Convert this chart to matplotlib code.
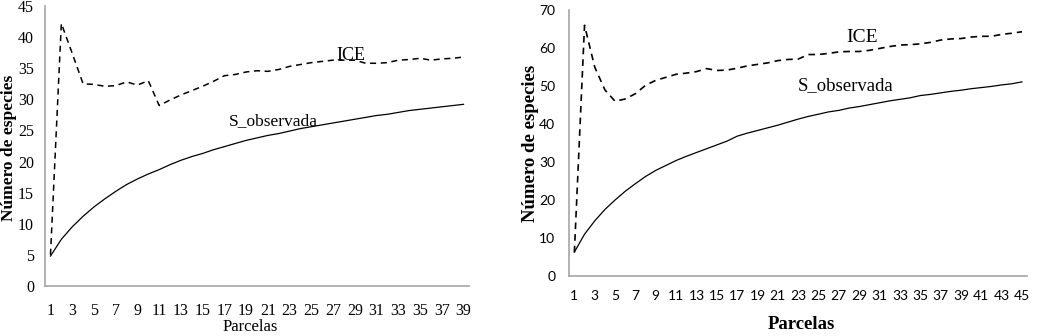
import matplotlib
matplotlib.use('Agg')
import matplotlib.pyplot as plt
from matplotlib import font_manager

# left panel (39 parcelas)
parcelas_a = list(range(1, 40))
ice_a = [5.0, 42.2, 37.4, 32.5, 32.4, 32.1, 32.2, 32.8, 32.3, 33.0,
         29.0, 29.9, 30.7, 31.4, 32.1, 32.9, 33.8, 34.0, 34.4, 34.6,
         34.5, 34.8, 35.3, 35.6, 35.9, 36.1, 36.3, 36.3, 36.3, 35.8,
         35.8, 35.9, 36.3, 36.4, 36.6, 36.3, 36.5, 36.6, 36.8]
sobs_a = [4.8, 7.5, 9.5, 11.2, 12.7, 14.0, 15.2, 16.3, 17.2, 18.0,
          18.7, 19.5, 20.2, 20.8, 21.3, 21.9, 22.4, 22.9, 23.4, 23.8,
          24.2, 24.5, 24.9, 25.3, 25.6, 25.9, 26.2, 26.5, 26.8, 27.1,
          27.4, 27.6, 27.9, 28.2, 28.4, 28.6, 28.8, 29.0, 29.2]

# right panel (45 parcelas)
parcelas_b = list(range(1, 46))
ice_b = [6.2, 66.0, 55.0, 49.0, 46.0, 46.6, 48.0, 50.2, 51.5, 52.3,
         53.1, 53.4, 53.8, 54.6, 54.1, 54.2, 54.7, 55.3, 55.7, 56.1,
         56.7, 57.0, 57.1, 58.3, 58.3, 58.6, 59.0, 59.1, 59.1, 59.4,
         59.9, 60.4, 60.8, 60.9, 61.1, 61.5, 62.1, 62.4, 62.5, 62.9,
         63.1, 63.1, 63.6, 63.9, 64.3]
sobs_b = [6.3, 11.0, 14.5, 17.5, 20.0, 22.3, 24.3, 26.2, 27.8, 29.1,
          30.4, 31.5, 32.5, 33.5, 34.5, 35.5, 36.8, 37.6, 38.3, 39.0,
          39.7, 40.5, 41.3, 42.0, 42.6, 43.2, 43.6, 44.2, 44.6, 45.1,
          45.6, 46.1, 46.5, 46.9, 47.5, 47.8, 48.2, 48.6, 48.9, 49.3,
          49.6, 49.9, 50.3, 50.6, 51.1]

plt.rcParams['font.family'] = 'Liberation Serif'

# narrow sans for the right panel ticks if it is there
try:
    font_manager.findfont('Liberation Sans Narrow', fallback_to_default=False)
    sans_ticks, sans_size = 'Liberation Sans Narrow', 11.5
except ValueError:
    sans_ticks, sans_size = 'Lato', 10

fig = plt.figure(figsize=(10.55, 3.36), dpi=100)
ax1 = fig.add_axes([0.0427, 0.149, 0.4018, 0.833])
ax2 = fig.add_axes([0.5396, 0.1786, 0.4339, 0.7914])


def style(ax, n, ymax, ystep, tick_font, size, xpad, ypad):
    ax.set_xlim(0.5, n + 0.5)
    ax.set_ylim(0, ymax)
    ax.set_yticks(range(0, ymax + 1, ystep))
    ax.set_xticks(range(1, n + 1, 2))
    for s in ['top', 'right']:
        ax.spines[s].set_visible(False)
    for s in ['left', 'bottom']:
        ax.spines[s].set_color('#a6a6a6')
        ax.spines[s].set_linewidth(1.2)
    ax.tick_params(axis='both', length=0, labelsize=size)
    ax.tick_params(axis='x', pad=xpad)
    ax.tick_params(axis='y', pad=ypad)
    for lab in ax.get_xticklabels() + ax.get_yticklabels():
        lab.set_family(tick_font)


# left
ax1.plot(parcelas_a, ice_a, color='black', lw=1.1, ls=(0, (4, 3)))
ax1.plot(parcelas_a, sobs_a, color='black', lw=0.9)
style(ax1, 39, 45, 5, 'Liberation Serif', 11.5, 12, 8)
ax1.text(28.6, 37.0, 'ICE', fontsize=13, ha='center', va='center')
ax1.text(21.5, 26.5, 'S_observada', fontsize=12.5, ha='center', va='center')
ax1.set_ylabel('Número de especies', fontsize=12.5, fontweight='bold')
ax1.yaxis.set_label_coords(-0.086, 0.493)
ax1.yaxis.label.set_va('center')
ax1.set_xlabel('Parcelas', fontsize=12)
ax1.xaxis.set_label_coords(0.483, -0.146)
ax1.xaxis.label.set_va('center')

# right
ax2.plot(parcelas_b, ice_b, color='black', lw=1.2, ls=(0, (4, 3)))
ax2.plot(parcelas_b, sobs_b, color='black', lw=0.9)
style(ax2, 45, 70, 10, sans_ticks, sans_size, 10, 10)
ax2.text(29.25, 62.8, 'ICE', fontsize=14, ha='center', va='center')
ax2.text(27.7, 50.1, 'S_observada', fontsize=13.5, ha='center', va='center')
ax2.set_ylabel('Número de especies', fontsize=13.5, fontweight='bold')
ax2.yaxis.set_label_coords(-0.084, 0.5)
ax2.yaxis.label.set_va('center')
ax2.set_xlabel('Parcelas', fontsize=13.5, fontweight='bold')
ax2.xaxis.set_label_coords(0.507, -0.184)
ax2.xaxis.label.set_va('center')

plt.savefig('out.png', dpi=100)
